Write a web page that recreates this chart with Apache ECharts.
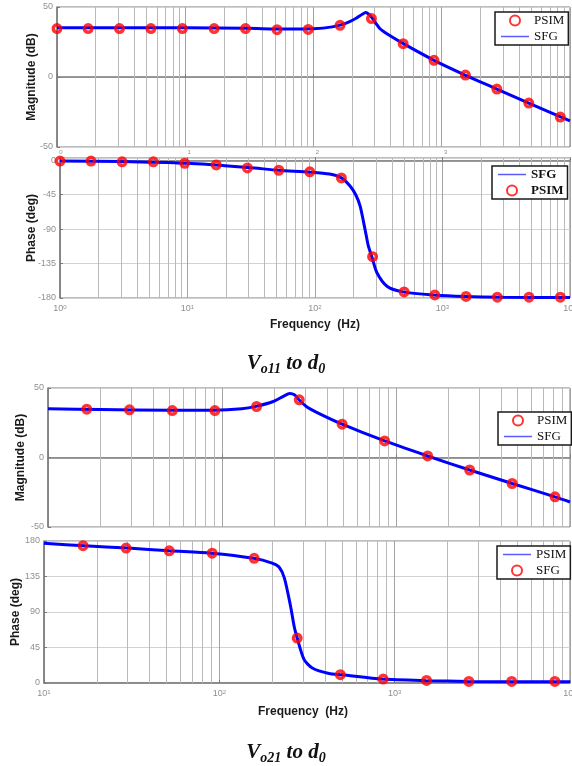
<!DOCTYPE html>
<html>
<head>
<meta charset="utf-8">
<script src="https://cdn.jsdelivr.net/npm/echarts@6/dist/echarts.min.js"></script>
<style>
  html, body { margin: 0; padding: 0; background: #fff; }
  #main { width: 572px; height: 766px; }
</style>
</head>
<body>
<div id="main"></div>
<script>
// ---- Vo11 to d0 ----
const psimFreqTop = [1, 1.75, 3.07, 5.4, 9.5, 16.8, 29.5, 52, 91, 161, 283, 500, 870, 1530, 2690, 4770, 8400];
const psimMagTop = [34.6, 34.6, 34.6, 34.6, 34.6, 34.6, 34.6, 33.8, 34, 36.9, 41.7, 23.8, 11.9, 1.4, -8.6, -18.6, -28.6];
const psimPhaseTop = [-1, -1, -2, -2, -4, -6, -10, -13, -15, -23, -126, -172, -176, -178, -179, -179, -179];

const sfgMagFreqTop = [1, 10, 30, 60, 100, 140, 180, 215, 240, 255, 272, 290, 329, 371, 502, 870, 1520, 2690, 4770, 10000];
const sfgMagTop = [35.2, 35.1, 34.8, 34.2, 34.4, 35.8, 38.5, 42, 44.8, 46, 44.5, 41.5, 34.6, 31, 23.8, 11.9, 1.4, -8.6, -18.6, -31.4];
const sfgPhaseFreqTop = [1, 3, 10, 30, 52, 92, 130, 161, 189, 210, 226, 248, 262, 279, 306, 369, 490, 850, 1500, 3000, 10000];
const sfgPhaseTop = [-1, -1.5, -4, -9.5, -13, -15.5, -18, -23, -34, -46, -60, -92, -112, -126, -147, -165, -172, -176, -178, -179, -179.5];

// ---- Vo21 to d0 ----
const markFreqBot = [16.7, 29.4, 51.8, 91, 158, 278, 490, 860, 1520, 2650, 4650, 8200];
const psimMagBot = [34.8, 34.3, 33.8, 33.8, 36.7, 41.5, 24, 11.9, 1.1, -9, -18.7, -28.3];
const sfgPhaseMarkBot = [174, 171, 167.5, 164.5, 158, 57, 10.5, 5, 3.3, 2, 2, 2];

const sfgMagFreqBot = [10, 20, 50, 90, 130, 157, 197, 225, 245, 262, 277, 305, 350, 490, 860, 1520, 2650, 4650, 8200, 10000];
const sfgMagBot = [35, 34.6, 34, 34, 35, 36.8, 40.3, 44, 46, 45, 41.5, 36.7, 32.5, 24, 11.9, 1.1, -9, -18.7, -28.3, -32];
const psimPhaseFreqBot = [10, 17, 30, 52, 90, 157, 200, 219, 235, 255, 267, 278, 304, 339, 422, 500, 850, 1510, 2600, 10000];
const psimPhaseBot = [177, 174, 171, 167.5, 164.5, 158, 152, 147, 133, 97, 72, 57, 30, 19, 12, 10.5, 5, 3, 2, 1.5];

// minor log grid lines (2..9 per decade)
const minorsFrom = (decades) => {
  const out = [];
  decades.forEach(d => { for (let k = 2; k <= 9; k++) out.push(k * d); });
  return out;
};
const minorTop = minorsFrom([1, 10, 100, 1000]);
const minorBot = minorsFrom([10, 100, 1000]);

const pairs = (xs, ys) => xs.map((x, i) => [x, ys[i]]);

const BLUE = '#0000ff';
const RED = '#ff0000';
const AXIS = '#7a7a7a';
const LABEL = '#8f8f8f';
const SANS = 'Liberation Sans';
const SERIF = 'Liberation Serif';
// thin horizontal bar for the line entries of the legends
const LINE_ICON = 'path://M0,0 M0,4.2 H30 V5.8 H0 Z M30,10';

const grids = [
  { left: 57, top: 7, width: 513, height: 140 },
  { left: 60, top: 158, width: 510, height: 140 },
  { left: 48, top: 388, width: 522, height: 139 },
  { left: 44, top: 541, width: 526, height: 142 },
];

const supLabel = (v) => '{b|10}{e|' + Math.round(Math.log10(v)) + '}';

const xAxisBase = (idx, min, labelMode) => ({
  type: 'log',
  logBase: 10,
  gridIndex: idx,
  min: min,
  max: 10000,
  axisLine: { lineStyle: { color: AXIS, width: 1.5 } },
  axisTick: { inside: true, length: 3, lineStyle: { color: AXIS } },
  splitLine: { show: true, lineStyle: { color: '#a3a3a3', width: 1 } },
  axisLabel: labelMode === 'none' ? { show: false } : labelMode === 'exp' ? {
    margin: 2,
    showMaxLabel: false,
    formatter: v => '{e|' + Math.round(Math.log10(v)) + '}',
    rich: { e: { fontSize: 6, color: LABEL, fontFamily: SANS, padding: [0, 0, 0, 8] } }
  } : {
    margin: 6,
    formatter: supLabel,
    rich: {
      b: { fontSize: 9, color: LABEL, fontFamily: SANS, verticalAlign: 'bottom' },
      e: { fontSize: 6, color: LABEL, fontFamily: SANS, verticalAlign: 'top' }
    }
  }
});

const yAxisBase = (idx, min, max, name, gap) => ({
  type: 'value',
  gridIndex: idx,
  min: min,
  max: max,
  interval: idx === 0 || idx === 2 ? 50 : 45,
  name: name,
  nameLocation: 'middle',
  nameGap: gap,
  nameMoveOverlap: false,
  nameTextStyle: { fontFamily: SANS, fontWeight: 'bold', fontSize: 12, color: '#1a1a1a' },
  axisLine: { show: true, lineStyle: { color: AXIS, width: 1.5 } },
  axisTick: { show: true, inside: true, length: 3, lineStyle: { color: AXIS } },
  splitLine: { show: true, lineStyle: { color: '#d2d2d2', width: 1 } },
  axisLabel: { fontSize: 9, color: LABEL, fontFamily: SANS, margin: 4, showMaxLabel: idx !== 1 }
});

const lineSeries = (name, idx, data) => ({
  name: name,
  type: 'line',
  xAxisIndex: idx,
  yAxisIndex: idx,
  data: data,
  symbol: 'none',
  smooth: 0.25,
  lineStyle: { color: BLUE, width: 3 },
  itemStyle: { color: BLUE },
  z: 3
});

const markSeries = (name, idx, data) => ({
  name: name,
  type: 'scatter',
  xAxisIndex: idx,
  yAxisIndex: idx,
  data: data,
  symbol: 'circle',
  symbolSize: 7.5,
  itemStyle: { color: 'rgba(0,0,0,0)', borderColor: RED, borderWidth: 3.5 },
  z: 4
});

const minorSeries = (idx, xs) => ({
  type: 'line',
  xAxisIndex: idx,
  yAxisIndex: idx,
  data: [],
  silent: true,
  z: 1,
  markLine: {
    silent: true,
    z: 1,
    symbol: ['none', 'none'],
    label: { show: false },
    lineStyle: { color: '#b9b9b9', width: 1, type: 'solid' },
    data: xs.map(v => ({ xAxis: v }))
  }
});

// legend entries: [name, isLine]
const legendBase = (items, left, top, bold) => ({
  data: items.map(([n, isLine]) => isLine
    ? { name: n, icon: LINE_ICON, itemStyle: { color: '#5a5aff' } }
    : { name: n }),
  orient: 'vertical',
  left: left,
  top: top,
  z: 10,
  backgroundColor: '#fff',
  borderColor: '#1a1a1a',
  borderWidth: 1.5,
  borderRadius: 0,
  padding: [2, 4, 2, 6],
  itemGap: 3,
  itemWidth: 28,
  itemHeight: 10,
  formatter: n => n.split('_')[0],
  textStyle: { fontFamily: SERIF, fontSize: 13, color: '#111', fontWeight: bold ? 'bold' : 'normal' }
});

const titleText = (sub, y) => ({
  type: 'text',
  left: 'center',
  top: y,
  style: {
    text: '{v|V}{s|' + sub + '}{v| to d}{s|0}',
    rich: {
      v: { fontFamily: SERIF, fontStyle: 'italic', fontWeight: 'bold', fontSize: 21, fill: '#111', lineHeight: 24 },
      s: { fontFamily: SERIF, fontStyle: 'italic', fontWeight: 'bold', fontSize: 14, fill: '#111', padding: [12, 0, 0, 0] }
    }
  }
});

const chart = echarts.init(document.getElementById('main'), null, { renderer: 'canvas' });

chart.setOption({
  animation: false,
  backgroundColor: '#fff',
  grid: grids.map(g => Object.assign({
    show: true, borderColor: AXIS, borderWidth: 1, backgroundColor: '#fff',
    containLabel: false, outerBoundsMode: 'none'
  }, g)),
  xAxis: [
    xAxisBase(0, 1, 'exp'),
    xAxisBase(1, 1, 'full'),
    xAxisBase(2, 10, 'none'),
    xAxisBase(3, 10, 'full'),
  ],
  yAxis: [
    yAxisBase(0, -50, 50, 'Magnitude (dB)', 19),
    yAxisBase(1, -180, 3, 'Phase (deg)', 22),
    yAxisBase(2, -50, 50, 'Magnitude (dB)', 21),
    yAxisBase(3, 0, 180, 'Phase (deg)', 22),
  ],
  legend: [
    legendBase([['PSIM_a', false], ['SFG_a', true]], 495, 12, false),
    legendBase([['SFG_b', true], ['PSIM_b', false]], 492, 166, true),
    legendBase([['PSIM_c', false], ['SFG_c', true]], 498, 412, false),
    legendBase([['PSIM_d', true], ['SFG_d', false]], 497, 546, false),
  ],
  series: [
    minorSeries(0, minorTop),
    minorSeries(1, minorTop),
    minorSeries(2, minorBot),
    minorSeries(3, minorBot),
    lineSeries('SFG_a', 0, pairs(sfgMagFreqTop, sfgMagTop)),
    markSeries('PSIM_a', 0, pairs(psimFreqTop, psimMagTop)),
    lineSeries('SFG_b', 1, pairs(sfgPhaseFreqTop, sfgPhaseTop)),
    markSeries('PSIM_b', 1, pairs(psimFreqTop, psimPhaseTop)),
    lineSeries('SFG_c', 2, pairs(sfgMagFreqBot, sfgMagBot)),
    markSeries('PSIM_c', 2, pairs(markFreqBot, psimMagBot)),
    lineSeries('PSIM_d', 3, pairs(psimPhaseFreqBot, psimPhaseBot)),
    markSeries('SFG_d', 3, pairs(markFreqBot, sfgPhaseMarkBot)),
  ],
  graphic: [
    { type: 'text', left: 270, top: 319, style: { text: 'Frequency  (Hz)', font: 'bold 12px "Liberation Sans"', fill: '#1a1a1a' } },
    { type: 'text', left: 258, top: 706, style: { text: 'Frequency  (Hz)', font: 'bold 12px "Liberation Sans"', fill: '#1a1a1a' } },
    titleText('o11', 353),
    titleText('o21', 742),
  ]
});
</script>
</body>
</html>
